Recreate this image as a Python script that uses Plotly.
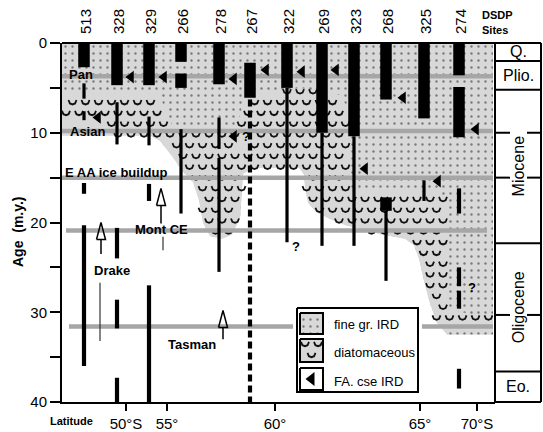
import numpy as np
import plotly.graph_objects as go

# ---------------- data ----------------
sites = ["513", "328", "329", "266", "278", "267", "322", "269", "323", "268", "325", "274"]
site_pos = [84, 117, 149, 181, 219, 250, 287, 322, 354, 386, 424, 459]   # position along latitude axis

lat_labels = ["50°S", "55°", "60°", "65°", "70°S"]
lat_pos = [126, 167, 275, 420, 477]

age_ticks = [0, 5, 10, 15, 20, 25, 30, 35, 40]
age_labels = ["0", "", "10", "", "20", "", "30", "", "40"]

# thick black intervals (coarse IRD)
core_site = ["513", "328", "329", "266", "266", "278", "267", "322", "269", "323", "268", "268", "325", "274", "274"]
core_top = [0, 0, 0, 0, 3.4, 0, 2.2, 0, 0, 0, 0, 17.2, 0, 0, 4.9]
core_bot = [2.7, 4.7, 4.7, 2.1, 5.0, 4.6, 6.1, 5.0, 10.0, 10.4, 6.3, 18.7, 8.4, 3.6, 10.5]

# thin lines
thin_site = ["513", "513", "328", "329", "266", "278", "278", "322", "269", "323", "268", "325"]
thin_top = [4.5, 7.6, 6.6, 8.2, 9.6, 8.3, 12.8, 5.0, 10.0, 10.4, 18.7, 15.3]
thin_bot = [6.2, 8.6, 11.3, 11.4, 19.0, 11.8, 25.5, 22.2, 22.6, 22.6, 26.5, 17.6]

# heavier line segments
seg_site = ["513", "513", "328", "328", "328", "329", "329", "274", "274", "274", "274"]
seg_top = [15.6, 20.3, 20.6, 28.6, 37.3, 15.7, 27.0, 16.2, 25.0, 27.6, 36.3]
seg_bot = [16.8, 36.0, 24.0, 31.8, 40.0, 17.6, 40.0, 19.0, 27.1, 29.6, 38.5]

# dashed record
dash_site = ["267"]
dash_top = [6.3]
dash_bot = [40.0]

# first appearance of coarse IRD (filled arrows)
fa_pos = [98, 131, 164, 234, 234, 266, 302, 336, 365, 403, 438, 476]
fa_age = [8.3, 3.8, 3.8, 4.0, 10.4, 3.0, 3.2, 3.0, 14.0, 6.1, 15.4, 9.6]

# question marks
q_pos = [246, 296, 472]
q_age = [10.6, 22.8, 27.4]

# events
event_age = [3.7, 9.8, 15.0, 20.9, 31.6]
event_x0 = [62, 62, 62, 66, 69]
event_x1 = [493, 493, 493, 487, 493]
label_text = ["Pan", "Asian", "E AA ice buildup", "Mont CE", "Drake", "Tasman"]
label_pos = [67, 68, 63, 161, 112, 192]
label_age = [3.5, 9.9, 14.4, 20.8, 25.4, 33.6]
label_anchor = ["left", "left", "left", "center", "center", "center"]

# open arrows (gateway openings)
arrow_pos = [101, 161, 223]
arrow_tip = [20.0, 16.2, 29.8]
arrow_tail = [23.5, 20.1, 33.0]
trend_pos = [100, 163]
trend_top = [26.7, 21.6]
trend_bot = [33.2, 23.1]

# epochs
epoch_names = ["Q.", "Plio.", "Miocene", "Oligocene", "Eo."]
epoch_top = [0, 2.0, 5.2, 22.3, 36.6]
epoch_bot = [2.0, 5.2, 22.3, 36.6, 40]
subdiv_age = [10, 15, 30.3]

# outline of sediment (grey) region and of diatomaceous part
gray_x = [62, 493, 493, 447, 437, 430, 424, 419, 414, 405, 381, 346, 330, 316, 308, 305, 304, 299,
          252, 243, 240, 232, 222, 210, 203, 199, 193, 182, 172, 160, 150, 62]
gray_age = [0, 0, 32.5, 32.5, 31.2, 29, 26.5, 24, 22.5, 21.8, 21.3, 20.3, 19.6, 18.8, 17.8, 16, 14.6, 13.9,
            13.9, 14.6, 19.5, 21.3, 21.8, 21.5, 20, 17.5, 15.5, 14.2, 12.6, 10.9, 10.3, 10.3]
diat_x = [62, 158, 166, 174, 236, 244, 252, 300, 340, 349, 351, 440, 447, 447, 470, 493, 493, 447,
          437, 430, 424, 419, 414, 405, 381, 346, 330, 316, 308, 305, 304, 299,
          252, 243, 240, 232, 222, 210, 203, 199, 193, 182, 172, 160, 150, 62]
diat_age = [5.6, 5.6, 7.5, 9.7, 9.7, 6.3, 5.8, 5.0, 5.8, 7.5, 16.4, 16.4, 18, 29.6, 30.2, 30.3, 31.6, 31.8,
            31.2, 29, 26.5, 24, 22.5, 21.8, 21.3, 20.3, 19.6, 18.8, 17.8, 16, 14.6, 13.9,
            13.9, 14.6, 19.5, 21.3, 21.8, 21.5, 20, 17.5, 15.5, 14.2, 12.6, 10.9, 10.3, 10.3]

# ---------------- layout helpers ----------------
FONT = "Liberation Sans, Arial, sans-serif"
W, H = 543, 432
L, R, T, B = 62, 48, 43, 30
PW, PH = W - L - R, H - T - B
X0, X1 = 62, 495
AGE_PX = PH / 40.0


def px2x(px):
    return (px - L) / PW


def py2paper(py):
    return (H - B - py) / PH


def py2age(py):
    return (py - T) / AGE_PX


def age2paper(a):
    return 1 - a / 40


def segs(names, tops, bots):
    xs, ys = [], []
    for n, t, b in zip(names, tops, bots):
        x = site_pos[sites.index(n)]
        xs += [x, x, None]
        ys += [t, b, None]
    return xs, ys


def inside(px, py, vx, vy):
    vx = np.asarray(vx, float)
    vy = np.asarray(vy, float)
    res = np.zeros(px.shape, bool)
    j = len(vx) - 1
    for i in range(len(vx)):
        cond = ((vy[i] > py) != (vy[j] > py))
        xint = (vx[j] - vx[i]) * (py - vy[i]) / (vy[j] - vy[i] + 1e-12) + vx[i]
        res ^= cond & (px < xint)
        j = i
    return res


# small cup-shaped diatom symbol (pixel offsets)
CUP_DX = [-4.0, -2.6, 0.0, 2.6, 4.0]
CUP_DY = [-2.2, 1.2, 2.2, 1.2, -2.2]


def cups(cx, cy):
    xs, ys = [], []
    for x, y in zip(cx, cy):
        xs += [x + d for d in CUP_DX] + [None]
        ys += [y + d / AGE_PX for d in CUP_DY] + [None]
    return xs, ys


GRAY = "#d8d8d8"
fig = go.Figure()

# grey region with fine-grained IRD dots
fig.add_trace(go.Scatter(x=gray_x, y=gray_age, mode="lines", fill="toself", fillcolor=GRAY,
                         fillpattern=dict(shape=".", bgcolor=GRAY, fgcolor="#1a1a1a", size=7, solidity=0.09),
                         line=dict(width=0), hoverinfo="skip"))
# diatomaceous part
fig.add_trace(go.Scatter(x=diat_x, y=diat_age, mode="lines", fill="toself", fillcolor=GRAY,
                         line=dict(width=0), hoverinfo="skip"))
gx, gy = np.meshgrid(np.arange(66, 495, 13.0), np.arange(0.6, 33, 1.2))
gx = gx + (np.round(gy / 1.2) % 2) * 6.5
m = inside(gx, gy, diat_x, diat_age)
for t, x, a, anc in zip(label_text, label_pos, label_age, label_anchor):
    wpx = 7.3 * len(t)
    xl = x if anc == "left" else x - wpx / 2
    m &= ~((gx > xl - 4) & (gx < xl + wpx + 4) & (np.abs(gy - a) < 1.1))
for x, a in zip(q_pos, q_age):
    m &= ~((np.abs(gx - x) < 7) & (np.abs(gy - a) < 1.0))
ux, uy = cups(gx[m], gy[m])
fig.add_trace(go.Scatter(x=ux, y=uy, mode="lines", line=dict(color="#111", width=1.8), hoverinfo="skip"))

# event lines
for a, x0, x1 in zip(event_age, event_x0, event_x1):
    fig.add_trace(go.Scatter(x=[x0, x1], y=[a, a], mode="lines",
                             line=dict(color="#a6a6a6", width=4.5), hoverinfo="skip"))


# legend box
def rect(x0, x1, a0, a1):
    return [x0, x1, x1, x0, x0], [a0, a0, a1, a1, a0]


lx, ly = rect(293, 422, py2age(306), py2age(394))
fig.add_trace(go.Scatter(x=lx, y=ly, mode="lines", fill="toself", fillcolor="white", line=dict(width=0), hoverinfo="skip"))
lx, ly = rect(297, 418, py2age(308), py2age(392))
fig.add_trace(go.Scatter(x=lx, y=ly, mode="lines", line=dict(color="black", width=2), hoverinfo="skip"))
sx, sy = rect(300, 323, py2age(313), py2age(334))
fig.add_trace(go.Scatter(x=sx, y=sy, mode="lines", fill="toself", fillcolor=GRAY,
                         fillpattern=dict(shape=".", bgcolor=GRAY, fgcolor="#1a1a1a", size=7, solidity=0.09),
                         line=dict(color="black", width=2), hoverinfo="skip"))
sx, sy = rect(300, 323, py2age(339), py2age(362))
fig.add_trace(go.Scatter(x=sx, y=sy, mode="lines", fill="toself", fillcolor=GRAY,
                         line=dict(color="black", width=2), hoverinfo="skip"))
ux, uy = cups([305, 318, 311.5], [py2age(344), py2age(344), py2age(355)])
fig.add_trace(go.Scatter(x=ux, y=uy, mode="lines", line=dict(color="#111", width=1.8), hoverinfo="skip"))
sx, sy = rect(300, 323, py2age(368), py2age(390))
fig.add_trace(go.Scatter(x=sx, y=sy, mode="lines", fill="toself", fillcolor="white",
                         line=dict(color="black", width=2), hoverinfo="skip"))
fig.add_trace(go.Scatter(x=[311.5], y=[py2age(379)], mode="markers",
                         marker=dict(symbol="triangle-left", size=12, color="black"), hoverinfo="skip"))

# cores
xs, ys = segs(thin_site, thin_top, thin_bot)
fig.add_trace(go.Scatter(x=xs, y=ys, mode="lines", line=dict(color="black", width=3.2), hoverinfo="skip"))
xs, ys = segs(seg_site, seg_top, seg_bot)
fig.add_trace(go.Scatter(x=xs, y=ys, mode="lines", line=dict(color="black", width=4.2), hoverinfo="skip"))
xs, ys = segs(dash_site, dash_top, dash_bot)
fig.add_trace(go.Scatter(x=xs, y=ys, mode="lines", line=dict(color="black", width=4.2, dash="7px,4px"), hoverinfo="skip"))
xs, ys = segs(core_site, core_top, core_bot)
fig.add_trace(go.Scatter(x=xs, y=ys, mode="lines", line=dict(color="black", width=11.5), hoverinfo="skip"))

# FA coarse IRD arrows
fig.add_trace(go.Scatter(x=fa_pos, y=fa_age, mode="markers",
                         marker=dict(symbol="triangle-left", size=11, color="black"), hoverinfo="skip"))

# open arrows
for x, tip, tail in zip(arrow_pos, arrow_tip, arrow_tail):
    base = tip + 1.9
    fig.add_trace(go.Scatter(x=[x - 4.5, x, x + 4.5, x - 4.5], y=[base, tip, base, base], mode="lines",
                             line=dict(color="black", width=1.5), hoverinfo="skip"))
    fig.add_trace(go.Scatter(x=[x, x], y=[base, tail], mode="lines",
                             line=dict(color="black", width=1.5), hoverinfo="skip"))
for x, t, b in zip(trend_pos, trend_top, trend_bot):
    fig.add_trace(go.Scatter(x=[x, x], y=[t, b], mode="lines", line=dict(color="#333", width=1.2), hoverinfo="skip"))

# question marks
fig.add_trace(go.Scatter(x=q_pos, y=q_age, mode="text", text=["<b>?</b>"] * len(q_pos),
                         textfont=dict(size=13, color="black", family=FONT), hoverinfo="skip"))

ann = []
for t, x, a, anc in zip(label_text, label_pos, label_age, label_anchor):
    ann.append(dict(x=x, y=a, xref="x", yref="y", text="<b>%s</b>" % t, showarrow=False,
                    xanchor=anc, yanchor="middle", font=dict(size=13, family=FONT, color="black")))
for n, x in zip(sites, site_pos):
    ann.append(dict(x=x + 1, y=py2paper(22), xref="x", yref="paper", text=n, textangle=-90, showarrow=False,
                    xanchor="center", yanchor="middle", font=dict(size=15, family=FONT, color="black")))
ann.append(dict(x=px2x(480), y=py2paper(14.5), xref="paper", yref="paper", text="<b>DSDP</b>", showarrow=False,
                xanchor="left", yanchor="middle", font=dict(size=11, family=FONT, color="black")))
ann.append(dict(x=px2x(480), y=py2paper(30), xref="paper", yref="paper", text="<b>Sites</b>", showarrow=False,
                xanchor="left", yanchor="middle", font=dict(size=11, family=FONT, color="black")))
ann.append(dict(x=px2x(18), y=py2paper(232), xref="paper", yref="paper", text="<b>Age\u00a0\u00a0(m.y.)</b>",
                textangle=-90, showarrow=False, xanchor="center", yanchor="middle",
                font=dict(size=14, family=FONT, color="black")))
ann.append(dict(x=px2x(71.5), y=py2paper(421), xref="paper", yref="paper", text="<b>Latitude</b>", showarrow=False,
                xanchor="center", yanchor="middle", font=dict(size=11, family=FONT, color="black")))
for t, py in zip(["fine gr. IRD", "diatomaceous", "FA. cse IRD"], [324, 352, 381]):
    ann.append(dict(x=332, y=py2age(py), xref="x", yref="y", text=t, showarrow=False,
                    xanchor="left", yanchor="middle", font=dict(size=13, family=FONT, color="black")))

# epoch column
cx0, cx1 = px2x(495), px2x(541)
shapes = [dict(type="line", xref="paper", yref="paper", x0=0, x1=cx1, y0=1, y1=1, line=dict(color="black", width=2)),
          dict(type="line", xref="paper", yref="paper", x0=cx0, x1=cx0, y0=0, y1=1, line=dict(color="black", width=2)),
          dict(type="line", xref="paper", yref="paper", x0=cx1, x1=cx1, y0=0, y1=1, line=dict(color="black", width=2)),
          dict(type="line", xref="paper", yref="paper", x0=cx0, x1=cx1, y0=0, y1=0, line=dict(color="black", width=2))]
for a in epoch_bot[:-1]:
    shapes.append(dict(type="line", xref="paper", yref="paper", x0=cx0, x1=cx1, y0=age2paper(a), y1=age2paper(a),
                       line=dict(color="black", width=2)))
for a in subdiv_age:
    for p0, p1 in [(495, 510), (527, 541)]:
        shapes.append(dict(type="line", xref="paper", yref="paper", x0=px2x(p0), x1=px2x(p1),
                           y0=age2paper(a), y1=age2paper(a), line=dict(color="black", width=2)))
for nme, t, b in zip(epoch_names, epoch_top, epoch_bot):
    rot = -90 if nme in ("Miocene", "Oligocene") else 0
    ann.append(dict(x=px2x(518), y=age2paper((t + b) / 2), xref="paper", yref="paper", text=nme,
                    textangle=rot, showarrow=False, xanchor="center", yanchor="middle",
                    font=dict(size=16, family=FONT, color="black")))

fig.update_layout(
    width=W, height=H, margin=dict(l=L, r=R, t=T, b=B, autoexpand=False),
    plot_bgcolor="white", paper_bgcolor="white", showlegend=False,
    xaxis=dict(range=[X0, X1], showgrid=False, zeroline=False, showline=True, linecolor="black", linewidth=2,
               ticks="outside", ticklen=7, tickwidth=2, tickcolor="black", tickvals=lat_pos, ticktext=lat_labels,
               tickfont=dict(size=15, family=FONT, color="black"), automargin=False),
    yaxis=dict(range=[40, 0], showgrid=False, zeroline=False, showline=True, linecolor="black", linewidth=2,
               ticks="outside", ticklen=10, tickwidth=2, tickcolor="black", tickvals=age_ticks, ticktext=age_labels,
               tickfont=dict(size=15, family=FONT, color="black"), automargin=False),
    annotations=ann, shapes=shapes,
)
fig.write_html("out.html", config={"displayModeBar": False},
               post_script="document.body.style.margin='0px';document.body.style.padding='0px';")
